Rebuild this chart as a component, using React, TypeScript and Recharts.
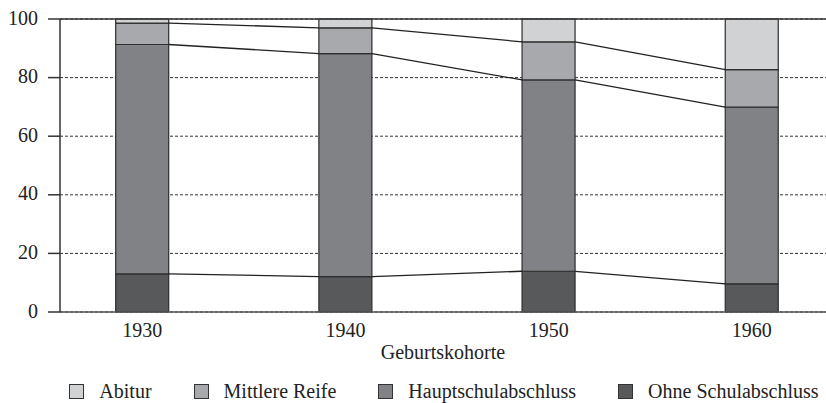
import React from 'react';
import { ComposedChart, Bar, Line, XAxis, YAxis, CartesianGrid, ReferenceLine, Legend } from 'recharts';

const years = [1930, 1940, 1950, 1960];
const ohne = [13.0, 12.1, 13.9, 9.6];
const haupt = [78.3, 76.1, 65.3, 60.3];
const mittlere = [7.3, 8.8, 13.0, 12.8];
const abitur = [1.4, 3.0, 7.8, 17.3];
const yTicks = [0, 20, 40, 60, 80, 100];
const xLabel = 'Geburtskohorte';

const legendNames = ['Abitur', 'Mittlere Reife', 'Hauptschulabschluss', 'Ohne Schulabschluss'];
const legendColors = ['#d1d2d4', '#a7a9ac', '#808285', '#58595b'];

const data = years.map((y, i) => ({
  year: y,
  ohne: ohne[i],
  haupt: haupt[i],
  mittlere: mittlere[i],
  abitur: abitur[i],
  cumOhne: ohne[i],
  cumHaupt: ohne[i] + haupt[i],
  cumMittlere: ohne[i] + haupt[i] + mittlere[i],
}));

const FONT = '"Liberation Serif", "Times New Roman", serif';
const BAR_SIZE = 53;

// curve that connects neighbouring points from the right edge of one bar to the left edge of the next
const edgeCurve = (context: any) => {
  let pts: [number, number][] = [];
  const half = BAR_SIZE / 2;
  return {
    areaStart() {},
    areaEnd() {},
    lineStart() {
      pts = [];
    },
    lineEnd() {
      for (let i = 0; i < pts.length - 1; i++) {
        context.moveTo(pts[i][0] + half, pts[i][1]);
        context.lineTo(pts[i + 1][0] - half, pts[i + 1][1]);
      }
    },
    point(x: number, y: number) {
      pts.push([+x, +y]);
    },
  };
};

const LegendContent = () => (
  <div
    style={{
      display: 'flex',
      justifyContent: 'center',
      alignItems: 'center',
      height: 26,
      paddingLeft: 62,
      boxSizing: 'border-box',
      fontFamily: FONT,
      fontSize: 20,
      color: '#222',
    }}
  >
    {legendNames.map((n, i) => (
      <div key={n} style={{ display: 'flex', alignItems: 'center', marginRight: i < legendNames.length - 1 ? 42 : 0 }}>
        <div
          style={{
            width: 13,
            height: 13,
            background: legendColors[i],
            border: '1.5px solid #333',
            marginRight: 15,
          }}
        />
        <span style={{ lineHeight: '26px' }}>{n}</span>
      </div>
    ))}
  </div>
);

export default function App() {
  return (
    <div style={{ position: 'absolute', left: 0, top: 0, width: 826, height: 403, background: '#fff' }}>
      <ComposedChart
        width={826}
        height={403}
        data={data}
        margin={{ top: 19, right: 0, bottom: 4, left: 0 }}
        style={{ fontFamily: FONT }}
      >
        <CartesianGrid horizontal vertical={false} stroke="#333" strokeDasharray="3 2" />
        <XAxis
          dataKey="year"
          type="number"
          domain={[1925.95, 1963.65]}
          ticks={years}
          allowDataOverflow
          tickLine={false}
          tickSize={0}
          tickMargin={11}
          axisLine={{ stroke: '#555', strokeWidth: 1.5 }}
          tick={{ fill: '#222', fontSize: 20, fontFamily: FONT }}
          height={61}
          label={{ value: xLabel, position: 'insideBottom', offset: 14, fill: '#222', fontSize: 20, fontFamily: FONT }}
        />
        <YAxis
          domain={[0, 100]}
          ticks={yTicks}
          width={60}
          tickSize={12}
          tickMargin={10}
          axisLine={{ stroke: '#333', strokeWidth: 1.5 }}
          tickLine={{ stroke: '#333', strokeWidth: 1.5 }}
          tick={{ fill: '#222', fontSize: 20, fontFamily: FONT, dy: -1.5 }}
        />
        <ReferenceLine y={100} stroke="#333" strokeWidth={1.5} />
        <Bar dataKey="ohne" stackId="a" fill="#58595b" stroke="#2e2e2e" strokeWidth={1.2} barSize={BAR_SIZE} isAnimationActive={false} />
        <Bar dataKey="haupt" stackId="a" fill="#808285" stroke="#2e2e2e" strokeWidth={1.2} barSize={BAR_SIZE} isAnimationActive={false} />
        <Bar dataKey="mittlere" stackId="a" fill="#a7a9ac" stroke="#2e2e2e" strokeWidth={1.2} barSize={BAR_SIZE} isAnimationActive={false} />
        <Bar dataKey="abitur" stackId="a" fill="#d1d2d4" stroke="#2e2e2e" strokeWidth={1.2} barSize={BAR_SIZE} isAnimationActive={false} />
        <Line dataKey="cumOhne" type={edgeCurve as any} stroke="#222" strokeWidth={1.3} dot={false} activeDot={false} legendType="none" isAnimationActive={false} />
        <Line dataKey="cumHaupt" type={edgeCurve as any} stroke="#222" strokeWidth={1.3} dot={false} activeDot={false} legendType="none" isAnimationActive={false} />
        <Line dataKey="cumMittlere" type={edgeCurve as any} stroke="#222" strokeWidth={1.3} dot={false} activeDot={false} legendType="none" isAnimationActive={false} />
        <Legend verticalAlign="bottom" content={LegendContent} wrapperStyle={{ height: 26, bottom: -1 }} />
      </ComposedChart>
    </div>
  );
}
